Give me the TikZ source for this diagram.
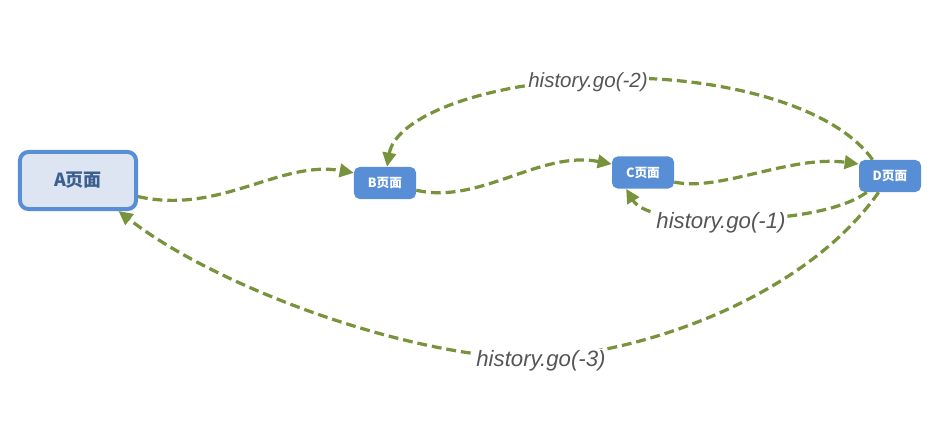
\documentclass[tikz,border=0pt]{standalone}
\usepackage{fontspec}
\setmainfont{Liberation Sans}
\newfontfamily\cjk{Noto Sans CJK SC}
\usepackage{xcolor}
\usetikzlibrary{arrows.meta}
\definecolor{pageblue}{HTML}{588ED6}
\definecolor{startfill}{HTML}{DCE5F1}
\definecolor{starttext}{HTML}{3B5F8E}
\definecolor{linkgreen}{HTML}{77933C}
\definecolor{labelgray}{HTML}{555555}
\tikzset{
  page/.style={rounded corners=4pt, minimum width=1.55cm, minimum height=0.8cm, fill=pageblue, text=white, font=\cjk\bfseries\fontsize{9}{10}\selectfont},
  startpage/.style={draw=pageblue, line width=0.1cm, rounded corners=6pt, fill=startfill, minimum width=2.9cm, minimum height=1.425cm, text=starttext, font=\cjk\bfseries\fontsize{12.8}{14}\selectfont},
  link/.style={-{Triangle[length=10pt,width=9.5pt]}, draw=linkgreen, line width=2.3pt, dash pattern=on 7pt off 3.5pt},
  golabel/.style={fill=white, inner sep=1pt, yshift=-2pt, text=labelgray, font=\itshape\fontsize{15.8}{17}\selectfont}
}
\begin{document}
\begin{tikzpicture}[x=0.025cm, y=-0.025cm]
  \useasboundingbox (0,0) rectangle (938,445);
  \node[startpage] (pageA) at (78,180.5) {A页面};
  \node[page] (pageB) at (385,183) {B页面};
  \node[page] (pageC) at (643,172.5) {C页面};
  \node[page] (pageD) at (890,176) {D页面};

  % forward navigation
  \draw[link] (pageA.-15) .. controls (220,215) and (280,160) .. (pageB.162);
  \draw[link] (pageB.-13) .. controls (480,205) and (540,150) .. (pageC.165);
  \draw[link] (pageC.-17) .. controls (720,192) and (790,155) .. (pageD.159);

  % history.go back
  \draw[link] (pageD.215) .. controls (840,212) and (780,220) .. (721,220)
    node[golabel] {history.go(-1)}
    .. controls (670,220) and (640,212) .. (pageC.224);
  \draw[link] (pageD.137) .. controls (830,100) and (700,72) .. (588,79)
    node[golabel, font=\itshape\fontsize{14.6}{16}\selectfont] {history.go(-2)}
    .. controls (470,86) and (395,120) .. (pageB.83);
  \draw[link] (pageD.235) .. controls (810,290) and (660,350) .. (541,358)
    node[golabel] {history.go(-3)}
    .. controls (420,361) and (220,290) .. (pageA.-37);
\end{tikzpicture}
\end{document}
